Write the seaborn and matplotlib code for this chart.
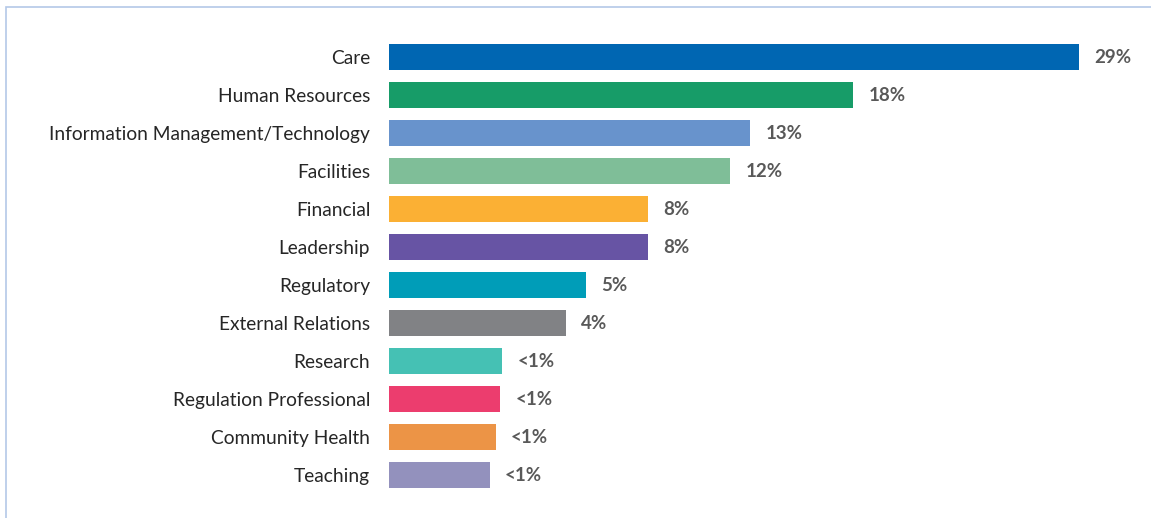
import matplotlib
matplotlib.use("Agg")
import matplotlib.pyplot as plt
from matplotlib.patches import Rectangle
import pandas as pd
import seaborn as sns

# Share of responses by area
categories = [
    "Care", "Human Resources", "Information Management/Technology",
    "Facilities", "Financial", "Leadership", "Regulatory",
    "External Relations", "Research", "Regulation Professional",
    "Community Health", "Teaching",
]
values = [29, 18, 13, 12, 8, 8, 5, 4, 0.9, 0.8, 0.6, 0.3]
value_labels = ["29%", "18%", "13%", "12%", "8%", "8%", "5%", "4%",
                "<1%", "<1%", "<1%", "<1%"]
colors = [
    "#0066B2", "#179C68", "#6893CC", "#7FBE98", "#FBB034", "#6754A4",
    "#009DB8", "#818285", "#45C1B4", "#EC3D6E", "#EC9446", "#9391BD",
]

# The value axis starts below zero; bars are anchored at the axis start
axis_min = -4.6
axis_max = 32.5

sns.set_theme(style="white")
plt.rcParams["font.family"] = ["Lato", "DejaVu Sans"]

df = pd.DataFrame({"area": categories, "value": values})
df["span"] = df["value"] - axis_min

fig = plt.figure(figsize=(11.51, 5.18), dpi=100)
ax = fig.add_axes([389 / 1151, 1 - 494 / 518, 762 / 1151, 456 / 518])

sns.barplot(
    data=df, y="area", x="span", hue="area", palette=colors,
    order=categories, hue_order=categories, legend=False,
    width=0.69, left=axis_min, ax=ax, orient="y",
    saturation=1, linewidth=0,
)

for container, lab in zip(ax.containers, value_labels):
    ax.bar_label(container, labels=[lab], padding=11, fontsize=13.5,
                 fontweight="bold", color="#595959")

ax.set_xlim(axis_min, axis_max)
ax.set_ylim(len(categories) - 0.5, -0.5)
ax.set_xlabel("")
ax.set_ylabel("")
ax.set_xticks([])
ax.tick_params(axis="y", length=0, pad=13.5, labelsize=13.8,
               labelcolor="#262626")
sns.despine(ax=ax, left=True, bottom=True)

# Light chart-area frame along the top and left edges
fig.patches.append(Rectangle((6 / 1151, -0.1), 1.2, 1 - 7 / 518 + 0.1,
                             transform=fig.transFigure, fill=False,
                             edgecolor="#B4C8E8", linewidth=1.2))

fig.savefig("out.png", dpi=100)
